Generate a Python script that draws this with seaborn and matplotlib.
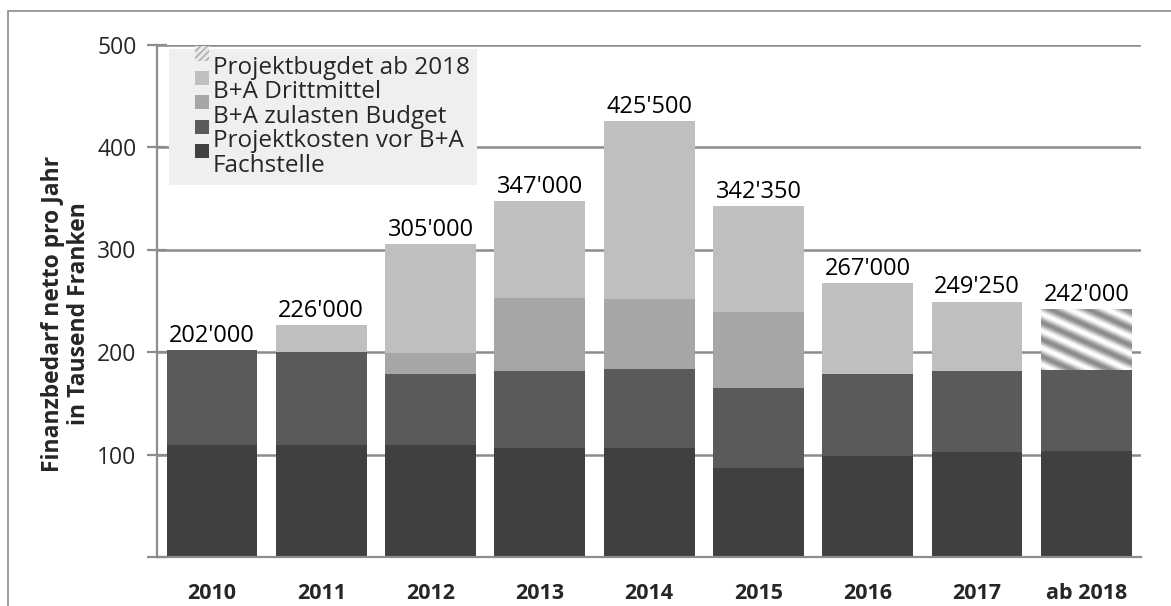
"""Finanzbedarf netto pro Jahr, gestapelte Balken (Nachbau)."""
import matplotlib

matplotlib.use("Agg")
import matplotlib.pyplot as plt
import numpy as np
import pandas as pd
import seaborn as sns
from matplotlib.legend_handler import HandlerPatch
from matplotlib.patches import Patch, Rectangle

# values in thousand CHF
years = ["2010", "2011", "2012", "2013", "2014", "2015", "2016", "2017", "ab 2018"]
fachstelle = [109, 109, 109, 106, 106, 87, 99, 102, 103]
projektkosten = [93, 91, 70, 75, 77, 78, 79.5, 79.5, 79.7]
zulasten_budget = [0, 0, 20.3, 72, 69, 74, 0, 0, 0]
drittmittel = [0, 26, 105.7, 94, 173.5, 103.35, 88.5, 67.75, 0]
projektbudget = [0, 0, 0, 0, 0, 0, 0, 0, 59.3]
totals = [202000, 226000, 305000, 347000, 425500, 342350, 267000, 249250, 242000]

layers = [
    ("Fachstelle", fachstelle, "#404040"),
    ("Projektkosten vor B+A", projektkosten, "#5a5a5a"),
    ("B+A zulasten Budget", zulasten_budget, "#a6a6a6"),
    ("B+A Drittmittel", drittmittel, "#bfbfbf"),
    ("Projektbugdet ab 2018", projektbudget, "#b0b0b0"),
]

sns.set_style("white")
plt.rcParams["font.family"] = ["Open Sans", "DejaVu Sans"]

W, H = 1171, 606
fig = plt.figure(figsize=(W / 100, H / 100), dpi=100)
ax = fig.add_axes([157.3 / W, 1 - 557 / H, (1141 - 157.3) / W, (557 - 44.5) / H])

bottom = np.zeros(len(years))
for name, vals, color in layers:
    df = pd.DataFrame({"year": years, "value": vals})
    sns.barplot(data=df, x="year", y="value", color=color, saturation=1,
                width=0.83, bottom=bottom.copy(), linewidth=0, ax=ax)
    bottom = bottom + np.array(vals)

ax.set_xlim(-0.5, len(years) - 0.5)
ax.set_ylim(0, 500)

# shiny diagonal texture for the 2018 budget bar
fig.canvas.draw()
for patch in ax.containers[-1]:
    if patch.get_height() <= 0:
        continue
    x0, y0 = patch.get_x(), patch.get_y()
    x1, y1 = x0 + patch.get_width(), y0 + patch.get_height()
    (px0, py0), (px1, py1) = ax.transData.transform([(x0, y0), (x1, y1)])
    nw, nh = int(abs(px1 - px0)) + 1, int(abs(py1 - py0)) + 1
    xx, yy = np.meshgrid(np.arange(nw), np.arange(nh))
    tex = np.sin(2 * np.pi * (yy - 0.45 * xx) / 17)
    im = ax.imshow(tex, cmap="gray", vmin=-3.4, vmax=1.0, extent=(x0, x1, y0, y1),
                   aspect="auto", interpolation="bilinear", zorder=patch.get_zorder() + 0.1)
    im.set_clip_path(patch)
ax.set_xlim(-0.5, len(years) - 0.5)
ax.set_ylim(0, 500)

# total labels
for i, t in enumerate(totals):
    ax.text(i, bottom[i] + 2, f"{t:,}".replace(",", "'"), ha="center", va="bottom",
            fontsize=17, color="black")

grid_c = "#8c8c8c"
ax.set_axisbelow(True)
ax.set_yticks([0, 100, 200, 300, 400, 500])
ax.set_yticklabels(["", "100", "200", "300", "400", "500"])
ax.yaxis.grid(True, color=grid_c, linewidth=1.8)
ax.xaxis.grid(False)
for s in ["top", "right"]:
    ax.spines[s].set_visible(False)
for s in ["left", "bottom"]:
    ax.spines[s].set_color(grid_c)
    ax.spines[s].set_linewidth(1.6)

ax.set_xticks(range(len(years)))
ax.set_xticklabels(years, fontweight="bold", fontsize=15.5)
ax.set_xticks(np.arange(-0.5, len(years)), minor=True)
ax.tick_params(axis="x", which="major", length=0, pad=18.5)
ax.tick_params(axis="x", which="minor", length=7, width=1.6, color=grid_c, direction="out")
ax.tick_params(axis="y", length=14, width=1.6, color=grid_c, direction="inout",
               labelsize=16.5, pad=8, left=True)
ax.set_xlabel("")
ax.set_ylabel("")

fig.text(66 / W, 1 - 314 / H, "Finanzbedarf netto pro Jahr\nin Tausend Franken",
         rotation=90, ha="center", va="center", multialignment="center",
         fontsize=16.5, fontweight="bold", linespacing=1.1)


def raised_box(legend, orig_handle, xdescent, ydescent, width, height, fontsize):
    # small square drawn at the right of the handle slot, a bit above the text
    side = 0.58 * fontsize
    return Rectangle((width - xdescent - side, -ydescent + 0.55 * fontsize), side, side)


handles = [Patch(facecolor="#e8e8e8", edgecolor="#a8a8a8", hatch="/////", linewidth=0,
                 label="Projektbugdet ab 2018")]
for name, vals, color in reversed(layers[:-1]):
    handles.append(Patch(facecolor=color, edgecolor="none", label=name))
leg = ax.legend(handles=handles, loc="upper left", bbox_to_anchor=(0.0115, 0.992),
                fontsize=17.5, frameon=True, fancybox=False, borderpad=0.3,
                labelspacing=0.02, handlelength=1.35, handleheight=0.7,
                handletextpad=0.18, borderaxespad=0,
                handler_map={Patch: HandlerPatch(patch_func=raised_box)})
leg.get_frame().set_facecolor("#efefef")
leg.get_frame().set_edgecolor("none")
leg.get_frame().set_alpha(1)

# outer chart border
fig.patches.append(Rectangle((8 / W, -0.1), 1.2, 1.1 - 11 / H, transform=fig.transFigure,
                             fill=False, edgecolor="#8c8c8c", linewidth=1.2))

fig.savefig("out.png", dpi=100)
